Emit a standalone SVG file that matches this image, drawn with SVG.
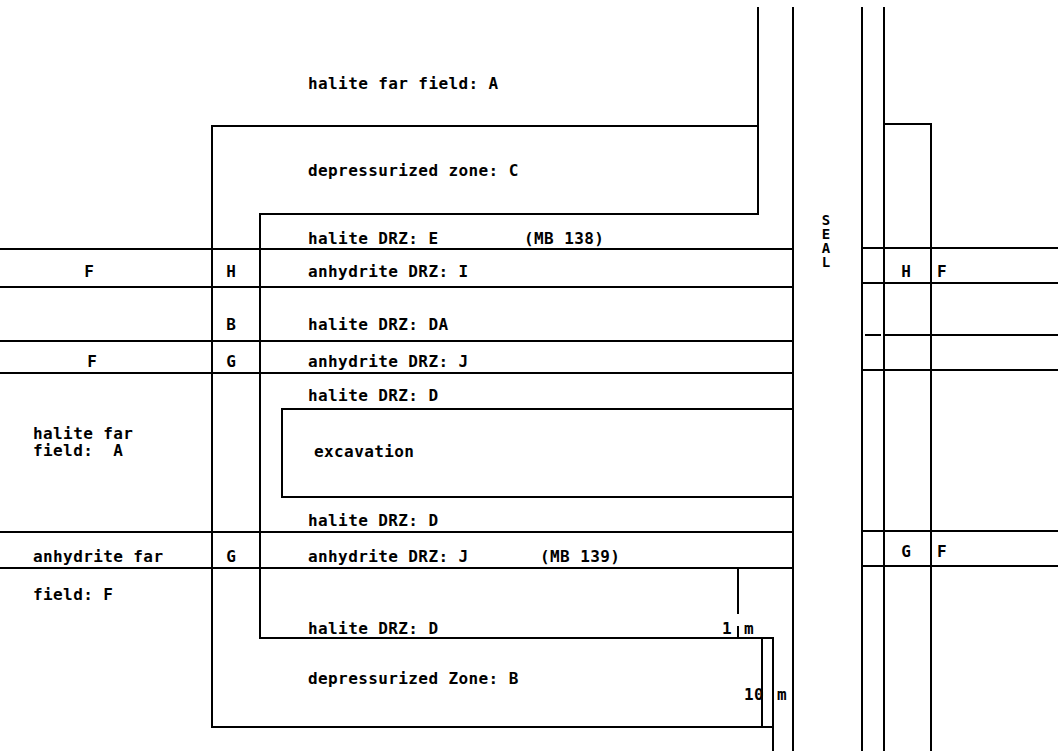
<svg xmlns="http://www.w3.org/2000/svg" width="1058" height="756" viewBox="0 0 1058 756">
<style>
.l{stroke:#000;stroke-width:2;fill:none;stroke-linecap:square}
text{font-family:"DejaVu Sans Mono","Liberation Mono",monospace;font-size:16px;font-weight:bold;letter-spacing:0.4px;fill:#000}
.s{text-anchor:middle;letter-spacing:0}
.v{font-size:14px}
</style>
<rect width="1058" height="756" fill="#fff"/>
<g id="connectors">
<path class="l" d="M758 8V214M793 8V750M862 8V750M884 8V750M884 124H931V750"/>
<path class="l" d="M212 126H758M212 126V727H773M260 214H758M260 214V638H773M773 638V750"/>
<path class="l" d="M0 249H793M0 287H793M0 341H793M0 373H793M0 532H793M0 568H793"/>
<path class="l" d="M793 409H282V497H793"/>
<path class="l" d="M862 248H1058M862 283H1058M866 335H880M884 335H1058M862 370H1058M862 531H1058M862 566H1058"/>
<path class="l" d="M738 568V613M738 627V638M762 638V727"/>
</g>
<g id="labels">
<text x="308" y="89">halite far field: A</text>
<text x="308" y="176">depressurized zone: C</text>
<text x="308" y="244">halite DRZ: E</text>
<text x="524" y="244">(MB 138)</text>
<text class="s" x="89" y="277">F</text>
<text class="s" x="231" y="277">H</text>
<text x="308" y="277">anhydrite DRZ: I</text>
<text class="s" x="231" y="330">B</text>
<text x="308" y="330">halite DRZ: DA</text>
<text class="s" x="92" y="367">F</text>
<text class="s" x="231" y="367">G</text>
<text x="308" y="367">anhydrite DRZ: J</text>
<text x="308" y="401">halite DRZ: D</text>
<text x="33" y="439">halite far</text>
<text x="33" y="456">field:&#160;&#160;A</text>
<text x="314" y="457">excavation</text>
<text x="308" y="526">halite DRZ: D</text>
<text x="33" y="562">anhydrite far</text>
<text class="s" x="231" y="562">G</text>
<text x="308" y="562">anhydrite DRZ: J</text>
<text x="540" y="562">(MB 139)</text>
<text x="33" y="600">field: F</text>
<text x="308" y="634">halite DRZ: D</text>
<text x="308" y="684">depressurized Zone: B</text>
<text x="722" y="634">1</text>
<text x="744" y="634">m</text>
<text x="744" y="700">10</text>
<text x="777" y="700">m</text>
<text class="s v" x="826" y="225">S</text>
<text class="s v" x="826" y="239">E</text>
<text class="s v" x="826" y="253">A</text>
<text class="s v" x="826" y="267">L</text>
<text class="s" x="906" y="277">H</text>
<text x="937" y="277">F</text>
<text class="s" x="906" y="557">G</text>
<text x="937" y="557">F</text>
</g>
</svg>
